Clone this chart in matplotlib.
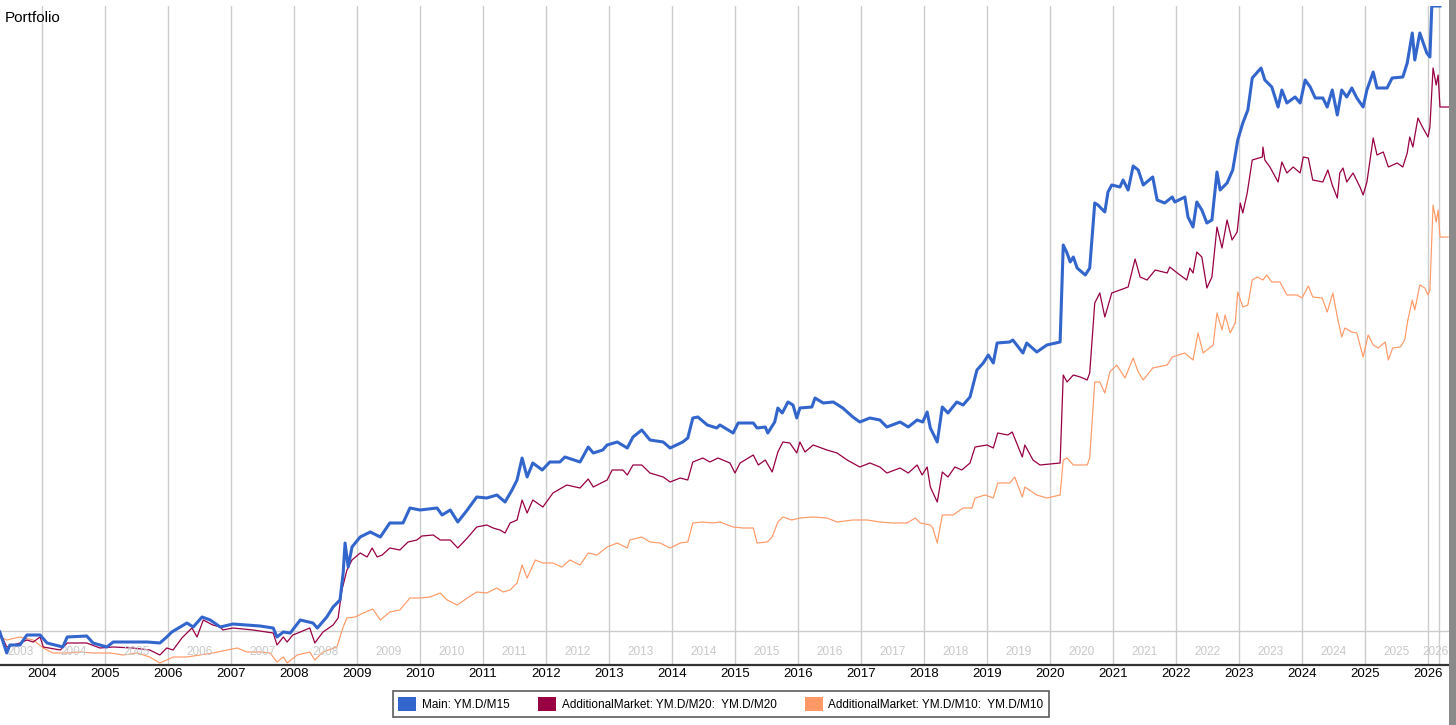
import matplotlib
matplotlib.use("Agg")
import matplotlib.pyplot as plt
from matplotlib.patches import Patch, Rectangle

plt.rcParams["font.family"] = ["Liberation Sans", "DejaVu Sans"]

# decimal year, equity (arbitrary units, 0 = start)
main_t = [2003.33, 2003.44, 2003.49, 2003.65, 2003.76, 2003.97, 2004.08, 2004.33, 2004.40, 2004.71,
          2004.81, 2005.03, 2005.13, 2005.44, 2005.67, 2005.87, 2005.98, 2006.06, 2006.30, 2006.40,
          2006.54, 2006.67, 2006.83, 2007.03, 2007.46, 2007.67, 2007.73, 2007.83, 2007.94, 2008.10,
          2008.30, 2008.37, 2008.52, 2008.62, 2008.73, 2008.78, 2008.81, 2008.86, 2008.92, 2009.05,
          2009.21, 2009.37, 2009.52, 2009.73, 2009.84, 2010.00, 2010.27, 2010.35, 2010.48, 2010.60,
          2010.75, 2010.90, 2011.06, 2011.22, 2011.35, 2011.46, 2011.54, 2011.62, 2011.70, 2011.79,
          2011.94, 2012.06, 2012.22, 2012.30, 2012.54, 2012.67, 2012.75, 2012.90, 2012.97, 2013.13,
          2013.29, 2013.38, 2013.52, 2013.65, 2013.86, 2013.97, 2014.17, 2014.25, 2014.33, 2014.41,
          2014.56, 2014.71, 2014.76, 2014.97, 2015.05, 2015.29, 2015.35, 2015.48, 2015.52, 2015.63,
          2015.68, 2015.75, 2015.84, 2015.92, 2015.98, 2016.03, 2016.22, 2016.27, 2016.40, 2016.56,
          2016.71, 2016.87, 2016.98, 2017.14, 2017.30, 2017.41, 2017.62, 2017.75, 2017.89, 2017.98,
          2018.05, 2018.10, 2018.21, 2018.29, 2018.38, 2018.52, 2018.62, 2018.73, 2018.84, 2018.94,
          2019.02, 2019.10, 2019.16, 2019.36, 2019.41, 2019.57, 2019.63, 2019.79, 2019.95, 2020.16,
          2020.21, 2020.27, 2020.32, 2020.37, 2020.43, 2020.56, 2020.63, 2020.71, 2020.76, 2020.87,
          2020.92, 2020.98, 2021.11, 2021.16, 2021.24, 2021.32, 2021.40, 2021.48, 2021.63, 2021.70,
          2021.82, 2021.94, 2021.98, 2022.14, 2022.19, 2022.27, 2022.33, 2022.41, 2022.49, 2022.57,
          2022.65, 2022.70, 2022.81, 2022.90, 2022.98, 2023.06, 2023.14, 2023.21, 2023.35, 2023.41,
          2023.52, 2023.62, 2023.68, 2023.76, 2023.89, 2023.97, 2024.05, 2024.13, 2024.21, 2024.33,
          2024.40, 2024.48, 2024.56, 2024.63, 2024.71, 2024.79, 2024.87, 2024.97, 2025.03, 2025.13,
          2025.19, 2025.35, 2025.43, 2025.60, 2025.67, 2025.75, 2025.79, 2025.87, 2025.98, 2026.03,
          2026.06, 2026.19]
main_v = [-1, -22, -14, -14, -4, -4, -12, -16, -6, -5,
          -12, -16, -11, -11, -11, -12, -6, -1, 8, 4,
          14, 11, 4, 7, 5, 3, -6, -1, -2, 11,
          8, 3, 14, 24, 31, 58, 88, 64, 84, 94,
          99, 94, 108, 108, 123, 121, 123, 116, 121, 109,
          121, 134, 133, 136, 129, 141, 151, 173, 154, 168,
          161, 169, 169, 174, 169, 184, 178, 181, 186, 189,
          183, 194, 201, 191, 189, 183, 189, 193, 213, 214,
          206, 203, 206, 198, 208, 208, 203, 204, 198, 209,
          223, 218, 229, 226, 213, 223, 224, 233, 228, 229,
          223, 214, 209, 213, 211, 204, 209, 204, 211, 209,
          219, 203, 189, 224, 218, 229, 226, 234, 261, 268,
          276, 268, 288, 289, 291, 278, 288, 279, 286, 289,
          386, 378, 369, 374, 363, 356, 363, 428, 426, 419,
          439, 446, 444, 451, 441, 465, 461, 446, 454, 431,
          428, 434, 429, 434, 414, 404, 429, 421, 408, 411,
          459, 441, 448, 461, 491, 508, 521, 553, 563, 551,
          544, 524, 541, 528, 534, 528, 551, 544, 533, 533,
          524, 541, 516, 541, 534, 543, 533, 524, 541, 559,
          543, 543, 553, 554, 568, 598, 571, 598, 578, 574,
          625, 625]

m20_t = [2003.33, 2003.44, 2003.65, 2003.76, 2003.86, 2003.97, 2004.02, 2004.29, 2004.40, 2004.71,
         2004.92, 2005.13, 2005.44, 2005.71, 2005.87, 2005.98, 2006.08, 2006.22, 2006.38, 2006.46,
         2006.56, 2006.71, 2006.83, 2006.87, 2007.03, 2007.35, 2007.57, 2007.67, 2007.73, 2007.83,
         2007.89, 2007.98, 2008.10, 2008.25, 2008.33, 2008.46, 2008.62, 2008.70, 2008.76, 2008.84,
         2008.92, 2009.05, 2009.16, 2009.24, 2009.32, 2009.40, 2009.52, 2009.68, 2009.81, 2009.95,
         2010.03, 2010.21, 2010.32, 2010.48, 2010.60, 2010.75, 2010.90, 2011.06, 2011.16, 2011.27,
         2011.35, 2011.43, 2011.54, 2011.62, 2011.70, 2011.79, 2011.95, 2012.11, 2012.33, 2012.54,
         2012.67, 2012.75, 2012.97, 2013.05, 2013.22, 2013.29, 2013.38, 2013.52, 2013.65, 2013.86,
         2013.97, 2014.13, 2014.25, 2014.33, 2014.49, 2014.60, 2014.73, 2014.92, 2015.00, 2015.08,
         2015.29, 2015.37, 2015.48, 2015.59, 2015.68, 2015.76, 2015.87, 2015.98, 2016.03, 2016.11,
         2016.24, 2016.46, 2016.62, 2016.78, 2016.98, 2017.14, 2017.30, 2017.41, 2017.62, 2017.75,
         2017.89, 2017.97, 2018.05, 2018.10, 2018.21, 2018.29, 2018.38, 2018.49, 2018.60, 2018.73,
         2018.81, 2019.00, 2019.10, 2019.17, 2019.33, 2019.40, 2019.56, 2019.60, 2019.73, 2019.84,
         2020.16, 2020.21, 2020.27, 2020.37, 2020.48, 2020.59, 2020.63, 2020.71, 2020.79, 2020.87,
         2020.98, 2021.11, 2021.24, 2021.35, 2021.43, 2021.54, 2021.67, 2021.86, 2021.90, 2022.02,
         2022.17, 2022.22, 2022.27, 2022.33, 2022.41, 2022.49, 2022.57, 2022.65, 2022.73, 2022.81,
         2022.89, 2022.97, 2023.02, 2023.06, 2023.13, 2023.21, 2023.37, 2023.38, 2023.41, 2023.49,
         2023.62, 2023.68, 2023.76, 2023.86, 2023.97, 2024.02, 2024.10, 2024.17, 2024.33, 2024.41,
         2024.48, 2024.56, 2024.60, 2024.65, 2024.71, 2024.81, 2024.92, 2024.97, 2025.03, 2025.13,
         2025.19, 2025.29, 2025.37, 2025.51, 2025.60, 2025.67, 2025.71, 2025.76, 2025.84, 2025.92,
         2026.00, 2026.03, 2026.08, 2026.13, 2026.16, 2026.19, 2026.33]
m20_v = [-1, -16, -12, -9, -11, -6, -16, -19, -12, -12,
         -17, -16, -17, -19, -24, -17, -19, -7, 3, -6,
         11, 6, 4, 1, 3, 1, -1, -2, -14, -6,
         -11, -4, -1, 3, -12, -1, 6, 13, 41, 61,
         71, 78, 74, 83, 74, 76, 83, 81, 89, 91,
         95, 96, 91, 91, 83, 93, 104, 106, 103, 101,
         98, 108, 111, 131, 118, 131, 124, 138, 146, 143,
         152, 144, 151, 161, 161, 156, 166, 166, 158, 154,
         149, 153, 151, 169, 173, 169, 173, 168, 158, 168,
         176, 166, 171, 159, 179, 189, 188, 178, 189, 179,
         186, 181, 178, 171, 164, 168, 164, 158, 163, 158,
         166, 156, 164, 144, 129, 159, 154, 164, 161, 168,
         184, 186, 183, 198, 196, 199, 174, 186, 171, 166,
         168, 256, 249, 256, 254, 251, 258, 328, 338, 314,
         338, 341, 344, 372, 354, 351, 361, 358, 364, 358,
         351, 363, 358, 379, 374, 343, 354, 404, 383, 411,
         391, 399, 428, 418, 438, 471, 474, 484, 471, 464,
         449, 469, 458, 464, 458, 474, 473, 451, 449, 461,
         446, 433, 458, 463, 449, 458, 444, 436, 449, 493,
         476, 479, 464, 468, 464, 478, 494, 484, 513, 503,
         494, 504, 563, 546, 556, 524, 524]

m10_t = [2003.33, 2003.44, 2003.65, 2003.86, 2004.02, 2004.17, 2004.40, 2004.60, 2004.81, 2005.08,
         2005.29, 2005.51, 2005.71, 2005.87, 2005.98, 2006.08, 2006.30, 2006.51, 2006.71, 2006.94,
         2007.10, 2007.25, 2007.46, 2007.62, 2007.73, 2007.83, 2007.89, 2008.05, 2008.25, 2008.33,
         2008.46, 2008.68, 2008.78, 2008.84, 2008.97, 2009.10, 2009.25, 2009.37, 2009.52, 2009.68,
         2009.84, 2010.00, 2010.16, 2010.32, 2010.43, 2010.59, 2010.75, 2010.90, 2011.06, 2011.22,
         2011.32, 2011.43, 2011.54, 2011.62, 2011.70, 2011.83, 2011.95, 2012.11, 2012.25, 2012.38,
         2012.54, 2012.67, 2012.81, 2012.97, 2013.13, 2013.29, 2013.33, 2013.52, 2013.65, 2013.81,
         2013.97, 2014.13, 2014.25, 2014.33, 2014.49, 2014.65, 2014.76, 2014.97, 2015.13, 2015.29,
         2015.35, 2015.51, 2015.59, 2015.68, 2015.76, 2015.90, 2016.03, 2016.24, 2016.46, 2016.62,
         2016.87, 2017.10, 2017.30, 2017.51, 2017.73, 2017.86, 2017.94, 2018.10, 2018.14, 2018.21,
         2018.29, 2018.46, 2018.62, 2018.76, 2018.81, 2018.97, 2019.10, 2019.17, 2019.36, 2019.44,
         2019.56, 2019.60, 2019.79, 2019.95, 2020.16, 2020.21, 2020.27, 2020.37, 2020.59, 2020.63,
         2020.71, 2020.79, 2020.87, 2020.95, 2021.06, 2021.19, 2021.32, 2021.40, 2021.48, 2021.63,
         2021.86, 2021.94, 2022.14, 2022.27, 2022.35, 2022.43, 2022.59, 2022.65, 2022.73, 2022.78,
         2022.86, 2022.94, 2022.98, 2023.06, 2023.14, 2023.21, 2023.29, 2023.38, 2023.44, 2023.52,
         2023.65, 2023.76, 2023.92, 2024.00, 2024.10, 2024.17, 2024.32, 2024.40, 2024.49, 2024.56,
         2024.63, 2024.68, 2024.79, 2024.87, 2024.97, 2025.05, 2025.13, 2025.21, 2025.32, 2025.37,
         2025.44, 2025.56, 2025.63, 2025.68, 2025.75, 2025.79, 2025.87, 2025.95, 2026.00, 2026.03,
         2026.08, 2026.13, 2026.16, 2026.19, 2026.32]
m10_v = [-6, -9, -6, -9, -17, -22, -22, -21, -22, -22,
         -24, -22, -26, -32, -29, -26, -26, -24, -22, -19,
         -17, -21, -21, -22, -31, -26, -32, -24, -21, -29,
         -21, -16, 4, 13, 14, 18, 22, 11, 19, 21,
         33, 33, 34, 38, 31, 26, 33, 39, 38, 43,
         39, 41, 48, 66, 53, 71, 68, 68, 64, 71,
         66, 78, 76, 84, 88, 83, 91, 94, 89, 88,
         83, 88, 89, 108, 109, 108, 109, 104, 103, 103,
         88, 89, 94, 109, 114, 111, 113, 114, 113, 109,
         111, 111, 109, 108, 108, 113, 108, 106, 103, 88,
         116, 116, 123, 123, 133, 136, 133, 148, 148, 154,
         134, 144, 136, 133, 136, 171, 173, 166, 166, 173,
         249, 249, 238, 259, 266, 253, 273, 259, 251, 263,
         266, 274, 278, 271, 298, 278, 286, 318, 301, 316,
         298, 308, 339, 324, 326, 351, 354, 351, 356, 349,
         349, 336, 336, 333, 345, 334, 333, 319, 338, 314,
         294, 303, 299, 298, 274, 296, 286, 283, 289, 271,
         283, 284, 291, 311, 331, 321, 346, 343, 336, 341,
         426, 409, 421, 394, 394]

years = list(range(2004, 2027))
x_start, x_end = 2003.333, 2026.333
y_low, y_high = -34, 625

legend_labels = ["Main: YM.D/M15",
                 "AdditionalMarket: YM.D/M20:  YM.D/M20",
                 "AdditionalMarket: YM.D/M10:  YM.D/M10"]
colors = ["#3366cc", "#990044", "#ff9966"]

fig = plt.figure(figsize=(14.56, 7.25), dpi=100)
ax = fig.add_axes([0, 60 / 725, 1449 / 1456, 659 / 725])

grid_c = "#cccccc"
for yr in years:
    ax.axvline(yr, color=grid_c, lw=1, zorder=0)
ax.axvline(2026.175, color=grid_c, lw=1, zorder=0)
ax.axhline(0, color=grid_c, lw=1, zorder=0)

ax.plot(m10_t, m10_v, color=colors[2], lw=0.85, zorder=2)
ax.plot(m20_t, m20_v, color=colors[1], lw=0.9, zorder=3)
ax.plot(main_t, main_v, color=colors[0], lw=2.2, zorder=4)

ax.set_xlim(x_start, x_end)
ax.set_ylim(y_low, y_high)

# faint year labels inside the plot, centred in each visible year
edges = [x_start] + years + [2026.25]
for i in range(len(edges) - 1):
    mid = (edges[i] + edges[i + 1]) / 2
    ax.text(mid, 0.0197, str(2003 + i), transform=ax.get_xaxis_transform(),
            ha="center", va="center", fontsize=8.5, color="#c8c8c8")

for s in ["top", "right", "left"]:
    ax.spines[s].set_visible(False)
ax.spines["bottom"].set_color("#333333")
ax.spines["bottom"].set_linewidth(1.6)
ax.set_yticks([])
ax.set_xticks(years)
ax.set_xticklabels([str(y) for y in years], fontsize=9.5)
ax.tick_params(axis="x", length=0, pad=2)

fig.text(5 / 1456, 1 - 18 / 725, "Portfolio", fontsize=11, va="center", ha="left")

handles = [Patch(facecolor=c, edgecolor="none") for c in colors]
leg = fig.legend(handles, legend_labels, loc="center", ncol=3,
                 bbox_to_anchor=(721 / 1456, 1 - 704 / 725), fontsize=8.5,
                 frameon=True, fancybox=False, handlelength=1.5, handleheight=1.5,
                 handletextpad=0.5, columnspacing=2.4, borderpad=0.45)
leg.get_frame().set_edgecolor("#333333")
leg.get_frame().set_linewidth(1.2)

# dark strip along the right edge
fig.patches.append(Rectangle((1449 / 1456, 0), 7 / 1456, 1, transform=fig.transFigure,
                             facecolor="#8a8a8a", edgecolor="none"))

fig.savefig("out.png", dpi=100)
